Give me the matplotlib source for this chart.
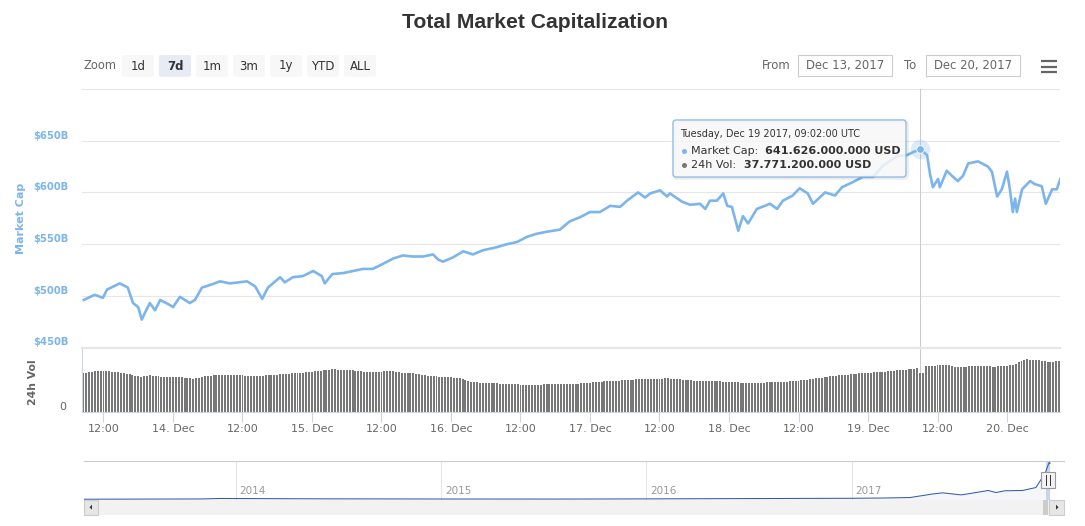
import matplotlib
matplotlib.use('Agg')
import matplotlib.pyplot as plt
import matplotlib.dates as mdates
import matplotlib.transforms as mtransforms
from matplotlib.patches import FancyBboxPatch, Rectangle, Polygon
from matplotlib.ticker import FuncFormatter
import pandas as pd

plt.rcParams['font.family'] = ['DejaVu Sans']

W, H = 1085, 526
BLUE = '#7cb5ec'
GREY = '#666666'

# market cap (billion USD), hours since 2017-12-13 00:00 UTC
mc_hours = [8.6, 10.5, 11.9, 12.6, 14.8, 16.2, 17.1, 18.0, 18.6, 19.2, 20.0, 20.9,
            21.8, 23.5, 24.0, 25.2, 26.9, 27.8, 29.0, 30.7, 32.1, 33.8, 36.8, 38.2,
            39.4, 40.4, 42.5, 43.3, 44.7, 46.4, 48.2, 49.7, 50.2, 51.5, 53.4, 55.1,
            56.8, 58.5, 60.3, 62.0, 63.7, 65.4, 67.2, 68.9, 69.8, 70.6, 72.3, 74.1,
            75.8, 77.5, 79.9, 81.7, 83.4, 85.1, 86.8, 88.6, 90.8, 92.5, 94.3, 96.0,
            97.7, 99.5, 101.2, 102.4, 104.3, 105.5, 106.4, 108.1, 109.3, 109.8, 111.9, 113.3,
            115.0, 115.9, 116.7, 117.9, 119.0, 119.7, 120.5, 121.6, 122.4, 123.3, 124.8, 127.1,
            128.3, 129.3, 131.0, 132.2, 133.6, 134.5, 136.6, 138.3, 139.5, 141.4, 143.1, 144.9,
            146.6, 149.0, 150.7, 151.8, 153.03, 154.2, 154.7, 155.2, 156.1, 156.4, 157.6, 158.5,
            159.5, 160.4, 161.3, 163.0, 164.7, 165.4, 166.3, 167.1, 168.0, 168.5, 169.0, 169.4,
            169.7, 170.6, 172.0, 172.8, 174.0, 174.7, 175.8, 176.6, 177.2]
mc_vals = [496, 501, 498, 506, 512, 508, 493, 489, 477, 484, 493, 486,
           496, 491, 489, 499, 493, 496, 508, 511, 514, 512, 514, 509,
           497, 508, 518, 513, 518, 519, 524, 519, 512, 521, 522, 524,
           526, 526, 531, 536, 539, 538, 538, 540, 535, 533, 537, 543,
           540, 544, 547, 550, 552, 557, 560, 562, 564, 572, 576, 581,
           581, 587, 586, 592, 600, 595, 599, 602, 596, 599, 591, 588,
           589, 584, 592, 592, 599, 587, 586, 563, 577, 570, 584, 589,
           584, 592, 597, 604, 599, 589, 600, 597, 605, 610, 615, 615,
           626, 635, 636, 639, 641.626, 636, 618, 605, 613, 605, 621, 616,
           611, 616, 628, 630, 625, 620, 596, 603, 620, 603, 581, 594,
           581, 603, 611, 608, 606, 589, 603, 603, 613]

# 24h volume (billion USD), one bar every 30 min from 2017-12-13 08:30
vol_vals = [
    37.5, 37.9, 38.3, 38.7, 39.1, 39.5, 39.6, 39.4, 39.2, 39.0, 38.8, 38.5,
    38.0, 37.6, 37.1, 36.7, 36.2, 35.6, 35.0, 34.4, 33.9, 34.3, 34.7, 35.2,
    34.9, 34.6, 34.2, 33.9, 33.6, 33.3, 33.3, 33.3, 33.3, 33.3, 33.2, 32.9,
    32.6, 32.3, 32.0, 32.5, 33.0, 33.6, 34.1, 34.6, 34.9, 35.1, 35.4, 35.5,
    35.4, 35.4, 35.3, 35.3, 35.2, 35.2, 35.1, 35.1, 35.0, 35.0, 35.0, 34.9,
    34.9, 34.9, 35.0, 35.2, 35.4, 35.5, 35.7, 35.9, 36.1, 36.3, 36.5, 36.9,
    37.1, 37.3, 37.5, 37.7, 37.9, 38.1, 38.4, 38.7, 39.1, 39.4, 39.7, 40.0,
    40.3, 40.6, 41.0, 40.9, 40.8, 40.7, 40.6, 40.5, 40.3, 40.0, 39.7, 39.4,
    39.1, 38.8, 38.7, 38.7, 38.7, 38.7, 38.7, 38.8, 39.0, 39.2, 39.4, 39.0,
    38.5, 38.0, 37.5, 37.4, 37.4, 37.3, 37.2, 36.8, 36.2, 35.6, 35.1, 34.6,
    34.5, 34.3, 34.2, 34.0, 33.9, 33.8, 33.6, 33.3, 33.0, 32.8, 32.5, 32.1,
    31.0, 29.9, 29.0, 28.8, 28.5, 28.2, 28.0, 27.9, 27.8, 27.7, 27.6, 27.5,
    27.3, 27.1, 27.0, 26.8, 26.6, 26.5, 26.4, 26.2, 26.1, 26.0, 25.9, 25.9,
    26.0, 26.1, 26.3, 26.5, 26.6, 26.8, 26.8, 26.7, 26.6, 26.6, 26.5, 26.6,
    26.8, 26.9, 27.1, 27.3, 27.5, 27.7, 27.9, 28.2, 28.4, 28.6, 28.8, 29.1,
    29.3, 29.5, 29.7, 29.9, 30.0, 30.2, 30.4, 30.6, 30.8, 31.0, 31.1, 31.2,
    31.3, 31.4, 31.5, 31.6, 31.7, 31.8, 31.9, 32.0, 32.1, 32.2, 32.3, 32.1,
    31.9, 31.6, 31.3, 31.1, 30.8, 30.6, 30.3, 30.0, 29.9, 29.8, 29.7, 29.6,
    29.6, 29.5, 29.4, 29.3, 29.3, 29.2, 29.1, 29.0, 28.8, 28.7, 28.5, 28.2,
    28.1, 28.1, 28.1, 28.1, 28.1, 28.1, 28.1, 28.2, 28.3, 28.4, 28.5, 28.6,
    28.7, 28.8, 29.0, 29.1, 29.3, 29.4, 29.7, 30.1, 30.4, 30.7, 31.0, 31.4,
    31.8, 32.2, 32.7, 33.1, 33.5, 33.9, 34.2, 34.5, 34.8, 35.1, 35.4, 35.6,
    35.9, 36.2, 36.5, 36.8, 37.1, 37.3, 37.5, 37.7, 37.9, 38.1, 38.3, 38.5,
    38.7, 38.9, 39.2, 39.4, 39.7, 40.0, 40.2, 40.5, 40.8, 41.1, 41.4, 41.7,
    42.0, 37.8, 37.8, 44.0, 44.2, 44.4, 44.6, 44.8, 45.0, 45.2, 45.1, 44.8,
    44.0, 43.4, 43.1, 43.2, 43.4, 43.6, 43.8, 43.9, 44.1, 44.2, 44.1, 44.0,
    43.9, 43.8, 43.7, 43.6, 43.8, 44.1, 44.4, 44.7, 45.0, 45.4, 46.5, 48.0,
    48.9, 49.8, 50.7, 50.5, 50.2, 49.9, 49.6, 49.3, 48.9, 48.4, 48.1, 48.5,
    48.8, 49.1]

# navigator: whole history of market cap (billion USD)
nav_dates = ['2013-04-06', '2013-11-01', '2013-12-05', '2014-02-01', '2014-06-01',
             '2015-01-15', '2015-08-01', '2016-01-01', '2016-06-15', '2017-01-01',
             '2017-03-01', '2017-04-15', '2017-05-25', '2017-06-12', '2017-07-15',
             '2017-08-01', '2017-09-01', '2017-09-15', '2017-10-01', '2017-11-01',
             '2017-11-25', '2017-12-07', '2017-12-12', '2017-12-19', '2017-12-20']
nav_vals = [1.5, 6, 14, 12, 8, 5, 4, 7, 12, 17, 22, 30, 90, 110, 75,
            100, 150, 115, 145, 150, 200, 380, 460, 640, 610]

y_ticks = [450, 500, 550, 600, 650, 700]
y_labels = ['$450B', '$500B', '$550B', '$600B', '$650B', '']
zoom_buttons = ['1d', '7d', '1m', '3m', '1y', 'YTD', 'ALL']
hover_time = '2017-12-19 09:02'
hover_mcap = 641.626

base = pd.Timestamp('2017-12-13')
mc_times = base + pd.to_timedelta(mc_hours, unit='h')
vol_times = pd.date_range('2017-12-13 08:30', periods=len(vol_vals), freq='30min')
x_lo = base + pd.Timedelta(hours=8.29)
x_hi = base + pd.Timedelta(hours=177.15)
hover_t = pd.Timestamp(hover_time)


def rect(x0, y0, x1, y1):
    return [x0 / W, 1 - y1 / H, (x1 - x0) / W, (y1 - y0) / H]


fig = plt.figure(figsize=(W / 100, H / 100), dpi=100)
fig.patch.set_facecolor('white')

# main pane
ax = fig.add_axes(rect(82, 89, 1060, 347.5))
ax.set_facecolor('none')
ax.set_xlim(x_lo, x_hi)
ax.set_ylim(450, 700)
ax.set_yticks(y_ticks)
ax.set_yticklabels(y_labels)
ax.grid(axis='y', color='#e6e6e6', lw=0.8)
ax.set_axisbelow(True)
for s in ax.spines.values():
    s.set_visible(False)
ax.tick_params(axis='y', length=0, pad=9.5, labelcolor=BLUE, labelsize=7.2)
ax.tick_params(axis='x', length=0, labelbottom=False)
up = mtransforms.ScaledTranslation(0, 0.06, fig.dpi_scale_trans)
for lbl in ax.get_yticklabels():
    lbl.set_fontweight('bold')
    lbl.set_transform(lbl.get_transform() + up)
ax.set_ylabel('Market Cap', color=BLUE, fontsize=8, fontweight='bold')
ax.yaxis.set_label_coords((25.5 - 82) / 978, 0.5)
ax.axvline(hover_t, color='#cccccc', lw=0.75, zorder=1)
ax.plot(mc_times, mc_vals, color=BLUE, lw=1.9, solid_joinstyle='round', zorder=3)
ax.plot([hover_t], [hover_mcap], 'o', ms=14, color=BLUE, alpha=0.25, mec='none', zorder=4)
ax.plot([hover_t], [hover_mcap], 'o', ms=5.5, color=BLUE, mec='white', mew=0.6, zorder=5)

# volume pane
axv = fig.add_axes(rect(82, 348, 1060, 411.7))
axv.set_facecolor('none')
axv.set_xlim(x_lo, x_hi)
axv.set_ylim(0, 61.7)
axv.axvline(hover_t, color='#cccccc', lw=0.75, zorder=1)
axv.bar(vol_times, vol_vals, width=0.34 / 24, color='#777777', zorder=2)
axv.set_yticks([0])
axv.set_yticklabels(['0'])
axv.tick_params(axis='y', length=0, pad=11, labelcolor=GREY, labelsize=8)
for lbl in axv.get_yticklabels():
    lbl.set_transform(lbl.get_transform() + up)
axv.spines['right'].set_visible(False)
axv.spines['top'].set_color('#e6e6e6')
axv.spines['top'].set_linewidth(1.6)
axv.spines['left'].set_color('#ccd6eb')
axv.spines['bottom'].set_color('#ccd6eb')
axv.spines['left'].set_linewidth(0.8)
axv.spines['bottom'].set_linewidth(0.8)
axv.xaxis.set_major_locator(mdates.HourLocator(byhour=[0, 12]))


def day_fmt(x, pos):
    d = mdates.num2date(x)
    if d.hour == 0:
        return f'{d.day}. {d:%b}'
    return d.strftime('%H:%M')


axv.xaxis.set_major_formatter(FuncFormatter(day_fmt))
axv.tick_params(axis='x', length=7, width=0.8, color='#ccd6eb', labelcolor=GREY,
                labelsize=8, pad=1.5)
axv.set_ylabel('24h Vol', color=GREY, fontsize=7.8, fontweight='bold')
axv.yaxis.set_label_coords((38.5 - 82) / 978, 0.47)

# navigator
axn = fig.add_axes(rect(84, 460.5, 1064, 500))
nav_t = pd.to_datetime(nav_dates)
axn.set_xlim(pd.Timestamp('2013-04-06'), pd.Timestamp('2018-01-14'))
axn.set_ylim(-12, 660)
axn.fill_between(nav_t, nav_vals, -12, color='#335cad', alpha=0.05, lw=0)
axn.plot(nav_t, nav_vals, color='#335cad', lw=0.75)
axn.axvspan(pd.Timestamp('2017-12-13 08:38'), pd.Timestamp('2017-12-20 09:09'),
            color='#6685c2', alpha=0.3, lw=0)
for yr in [2014, 2015, 2016, 2017]:
    t = pd.Timestamp(f'{yr}-01-01')
    axn.axvline(t, color='#e6e6e6', lw=0.75, zorder=0)
    axn.text(t + pd.Timedelta(days=7), 0.22, str(yr), transform=axn.get_xaxis_transform(),
             fontsize=7.5, color='#999999', ha='left', va='center')
axn.set_xticks([])
axn.set_yticks([])
for s in ['left', 'right', 'bottom']:
    axn.spines[s].set_visible(False)
axn.spines['top'].set_color('#cccccc')
axn.spines['top'].set_linewidth(0.8)

# overlay for chart chrome (pixel coordinates)
ov = fig.add_axes([0, 0, 1, 1], zorder=10)
ov.set_xlim(0, W)
ov.set_ylim(H, 0)
ov.axis('off')

ov.text(534.5, 22.5, 'Total Market Capitalization', ha='center', va='center',
        fontsize=15.2, color='#333333', family='Liberation Sans', fontweight='bold')

ov.text(84, 65.5, 'Zoom', ha='left', va='center', fontsize=8.3, color=GREY)
for i, b in enumerate(zoom_buttons):
    x0 = 122 + i * 37
    sel = b == '7d'
    ov.add_patch(FancyBboxPatch((x0, 55), 32, 21.7, boxstyle='round,pad=0,rounding_size=2',
                                fc='#e6ebf5' if sel else '#f7f7f7', ec='none'))
    ov.text(x0 + 16, 66, b, ha='center', va='center', fontsize=8.5, color='#333333',
            fontweight='bold' if sel else 'normal')

ov.text(762, 65.5, 'From', ha='left', va='center', fontsize=8.4, color=GREY)
ov.text(904, 65.5, 'To', ha='left', va='center', fontsize=8.4, color=GREY)
for x0, s in [(798, 'Dec 13, 2017'), (926, 'Dec 20, 2017')]:
    ov.add_patch(Rectangle((x0, 55.3), 94, 21, fc='white', ec='#cccccc', lw=0.8))
    ov.text(x0 + 47, 66, s, ha='center', va='center', fontsize=8.4, color=GREY)
for yy in [61, 66.5, 72]:
    ov.plot([1041, 1057], [yy, yy], color=GREY, lw=1.6, solid_capstyle='butt')

# tooltip
ov.add_patch(FancyBboxPatch((674, 121), 233, 57, boxstyle='round,pad=0,rounding_size=3',
                            fc='none', ec=(0, 0, 0, 0.08), lw=2.5))
ov.add_patch(FancyBboxPatch((673, 120), 233, 57, boxstyle='round,pad=0,rounding_size=3',
                            fc=(0.97, 0.97, 0.97, 0.85), ec=BLUE, lw=0.8))
ov.text(680, 134, 'Tuesday, Dec 19 2017, 09:02:00 UTC', ha='left', va='center',
        fontsize=7, color='#333333')
ov.plot([683.5], [150.5], 'o', ms=3.6, color=BLUE, mec='none')
ov.text(691, 150.5, 'Market Cap:', ha='left', va='center', fontsize=8, color='#333333')
ov.text(765, 150.5, '641.626.000.000 USD', ha='left', va='center', fontsize=8,
        color='#333333', fontweight='bold')
ov.plot([683.5], [165], 'o', ms=3.6, color='#777777', mec='none')
ov.text(691, 165, '24h Vol:', ha='left', va='center', fontsize=8, color='#333333')
ov.text(744, 165, '37.771.200.000 USD', ha='left', va='center', fontsize=8,
        color='#333333', fontweight='bold')

# navigator handle and scrollbar
ov.add_patch(Rectangle((1041, 472), 14, 16, fc='#f2f2f2', ec='#999999', lw=0.8))
for xx in [1046, 1050]:
    ov.plot([xx, xx], [475, 485], color='#333333', lw=0.7)
ov.add_patch(Rectangle((84, 500), 980, 14.5, fc='#f2f2f2', ec='none'))
ov.add_patch(Rectangle((1043, 500), 5, 14.5, fc='#cccccc', ec='none'))
ov.add_patch(Rectangle((84, 500), 14, 14.5, fc='#e6e6e6', ec='#cccccc', lw=0.8))
ov.add_patch(Rectangle((1049, 500), 15, 14.5, fc='#e6e6e6', ec='#cccccc', lw=0.8))
ov.add_patch(Polygon([[89.5, 507.2], [92, 504.7], [92, 509.7]], closed=True, fc='#333333'))
ov.add_patch(Polygon([[1058.5, 507.2], [1056, 504.7], [1056, 509.7]], closed=True, fc='#333333'))

fig.savefig('out.png', dpi=100, facecolor='white')
